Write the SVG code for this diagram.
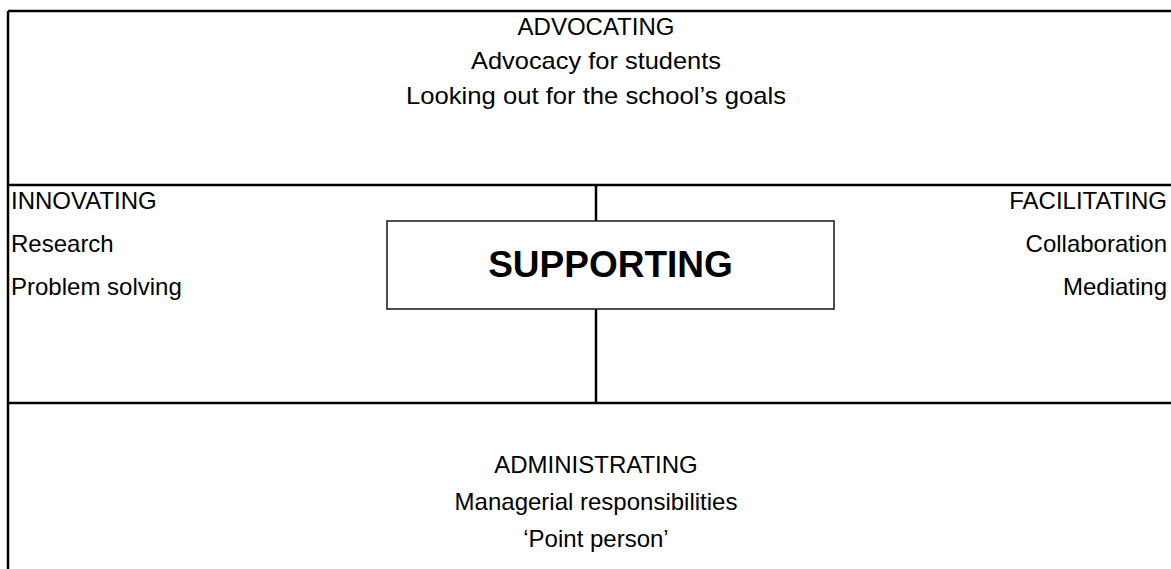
<svg xmlns="http://www.w3.org/2000/svg" width="1171" height="569" viewBox="0 0 1171 569">
<style>
  .frame{stroke:#000;stroke-width:2.5;fill:none}
  .t{font-family:"Liberation Sans",Arial,sans-serif;font-size:24px;fill:#000}
  .c{text-anchor:middle}
  .r{text-anchor:end}
  .title{font-family:"Liberation Sans",Arial,sans-serif;font-size:37px;font-weight:bold;fill:#000;text-anchor:middle}
</style>
<rect width="1171" height="569" fill="#fff"/>
<g id="connectors">
  <line class="frame" x1="8" y1="11" x2="1171" y2="11"/>
  <line class="frame" x1="8" y1="11" x2="8" y2="569"/>
  <line class="frame" x1="8" y1="185" x2="1171" y2="185"/>
  <line class="frame" x1="8" y1="403" x2="1171" y2="403"/>
  <line class="frame" x1="596" y1="185" x2="596" y2="403"/>
</g>
<g id="advocating">
  <text class="t c" x="596" y="35">ADVOCATING</text>
  <text class="t c" x="596" y="69" textLength="250" lengthAdjust="spacingAndGlyphs">Advocacy for students</text>
  <text class="t c" x="596" y="104" textLength="380" lengthAdjust="spacingAndGlyphs">Looking out for the school’s goals</text>
</g>
<g id="innovating">
  <text class="t" x="11" y="209">INNOVATING</text>
  <text class="t" x="11" y="252">Research</text>
  <text class="t" x="11" y="295">Problem solving</text>
</g>
<g id="facilitating">
  <text class="t r" x="1167" y="209">FACILITATING</text>
  <text class="t r" x="1167" y="252">Collaboration</text>
  <text class="t r" x="1167" y="295">Mediating</text>
</g>
<g id="supporting">
  <rect x="387" y="221" width="447" height="88" fill="#fff" stroke="#222" stroke-width="1.6"/>
  <text class="title" x="610.5" y="277">SUPPORTING</text>
</g>
<g id="administrating">
  <text class="t c" x="596" y="473">ADMINISTRATING</text>
  <text class="t c" x="596" y="510">Managerial responsibilities</text>
  <text class="t c" x="596" y="547">‘Point person’</text>
</g>
</svg>
